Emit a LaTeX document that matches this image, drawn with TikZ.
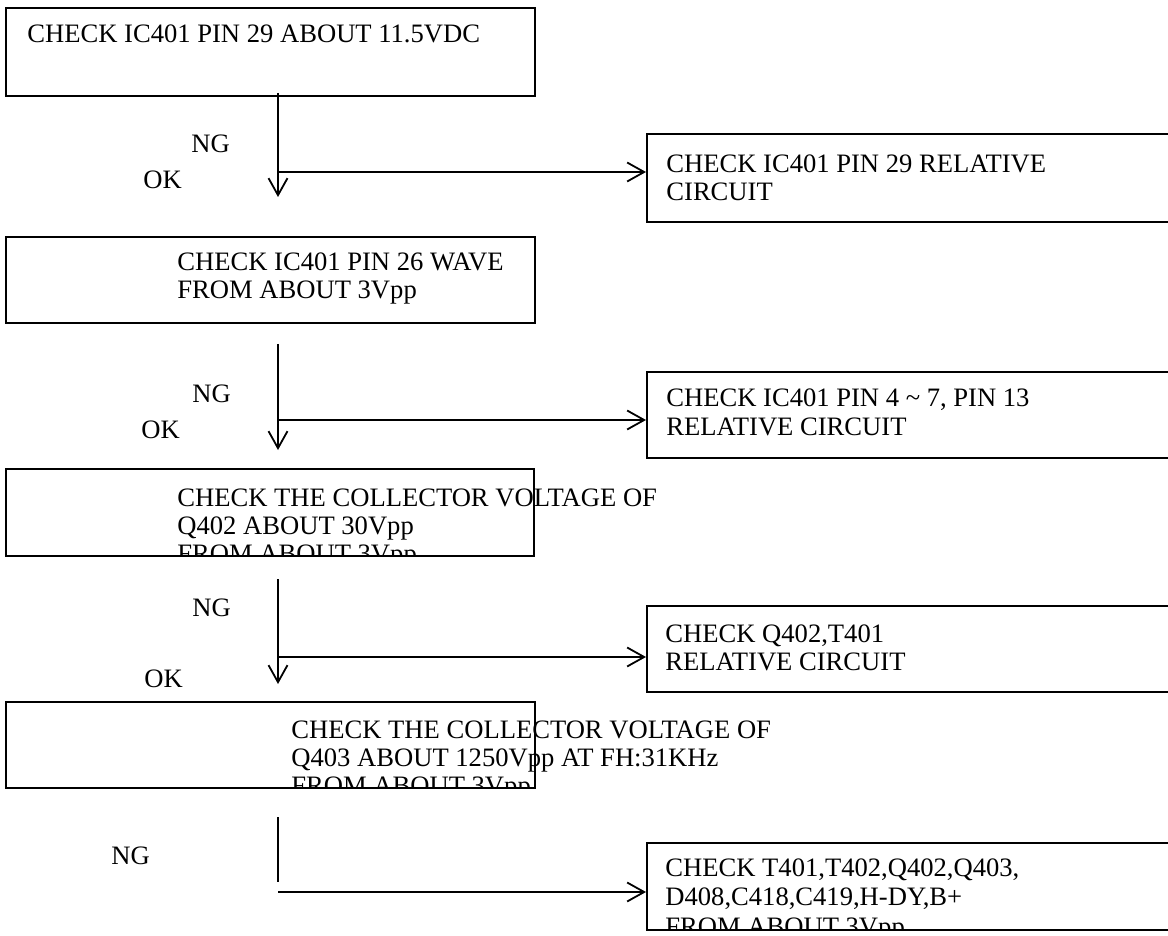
\documentclass[tikz,border=0pt]{standalone}
\usepackage{fontspec}
\setmainfont{Liberation Serif}
\usetikzlibrary{arrows.meta,fit}
\begin{document}
\begin{tikzpicture}[x=0.5pt,y=-0.5pt,
  box/.style={draw=black, line width=1pt, inner sep=0pt, fit={#1}},
  txt/.style={anchor=base west, inner sep=0pt, font=\fontsize{13.3pt}{16pt}\selectfont},
  conn/.style={draw=black, line width=0.9pt},
  arr/.style={conn, -{Straight Barb[length=8.5pt,width=9.5pt,line width=0.9pt]}}
]
\useasboundingbox (0,0) rectangle (1168,936);

% ---- boxes ----
\node[box={(6,8) (535,96)}] (A) {};
\node[box={(647,134) (1180,222)}] (B) {};
\node[box={(6,237) (535,323)}] (A2) {};
\node[box={(647,372) (1180,458)}] (C) {};
\node[box={(6,469) (534,556)}] (A3) {};
\node[box={(647,606) (1180,692)}] (D) {};
\node[box={(6,702) (535,788)}] (A4) {};
\node[box={(647,843) (1180,930)}] (E) {};

% ---- box texts ----
\node[txt] (tA) at (27,43) {CHECK IC401 PIN 29 ABOUT 11.5VDC};
\node[txt] (tB1) at (666,173) {CHECK IC401 PIN 29 RELATIVE};
\node[txt] (tB2) at (666,201) {CIRCUIT};
\node[txt] (tA21) at (177,271) {CHECK IC401 PIN 26 WAVE};
\node[txt] (tA22) at (177,299) {FROM ABOUT 3Vpp};
\node[txt] (tC1) at (666,407) {CHECK IC401 PIN 4 \textasciitilde{} 7, PIN 13};
\node[txt] (tC2) at (666,436) {RELATIVE CIRCUIT};
\begin{scope}
  \clip (0,460) rectangle (1168,556);
  \node[txt] (tA31) at (177,506) {CHECK THE COLLECTOR VOLTAGE OF};
  \node[txt] (tA32) at (177,534) {Q402 ABOUT 30Vpp};
  \node[txt] (tA33) at (177,562) {FROM ABOUT 3Vpp};
\end{scope}
\node[txt] (tD1) at (665,642) {CHECK Q402,T401};
\node[txt] (tD2) at (665,670) {RELATIVE CIRCUIT};
\begin{scope}
  \clip (0,695) rectangle (1168,788);
  \node[txt] (tA41) at (291,738) {CHECK THE COLLECTOR VOLTAGE OF};
  \node[txt] (tA42) at (291,766) {Q403 ABOUT 1250Vpp AT FH:31KHz};
  \node[txt] (tA43) at (291,794) {FROM ABOUT 3Vpp};
\end{scope}
\begin{scope}
  \clip (0,835) rectangle (1168,930);
  \node[txt] (tE1) at (665,876) {CHECK T401,T402,Q402,Q403,};
  \node[txt] (tE2) at (665,905) {D408,C418,C419,H-DY,B+};
  \node[txt] (tE3) at (665,935) {FROM ABOUT 3Vpp};
\end{scope}

% ---- labels ----
\node[txt] (ng1) at (191,153) {NG};
\node[txt] (ok1) at (143,189) {OK};
\node[txt] (ng2) at (192,402) {NG};
\node[txt] (ok2) at (141,438) {OK};
\node[txt] (ng3) at (192,616) {NG};
\node[txt] (ok3) at (144,687) {OK};
\node[txt] (ng4) at (111,864) {NG};

% ---- connector coordinates ----
\coordinate (s1) at (278,93);  \coordinate (j1) at (278,172); \coordinate (t1) at (278,197);
\coordinate (s2) at (278,344); \coordinate (j2) at (278,420); \coordinate (t2) at (278,450);
\coordinate (s3) at (278,579); \coordinate (j3) at (278,657); \coordinate (t3) at (278,684);
\coordinate (s4) at (278,817); \coordinate (e4) at (278,882); \coordinate (j4) at (278,892);

% ---- connectors ----
\draw[arr] (s1) -- (t1);
\draw[arr] (j1) -- (B.west |- j1);
\draw[arr] (s2) -- (t2);
\draw[arr] (j2) -- (C.west |- j2);
\draw[arr] (s3) -- (t3);
\draw[arr] (j3) -- (D.west |- j3);
\draw[conn] (s4) -- (e4);
\draw[arr] (j4) -- (E.west |- j4);
\end{tikzpicture}
\end{document}
